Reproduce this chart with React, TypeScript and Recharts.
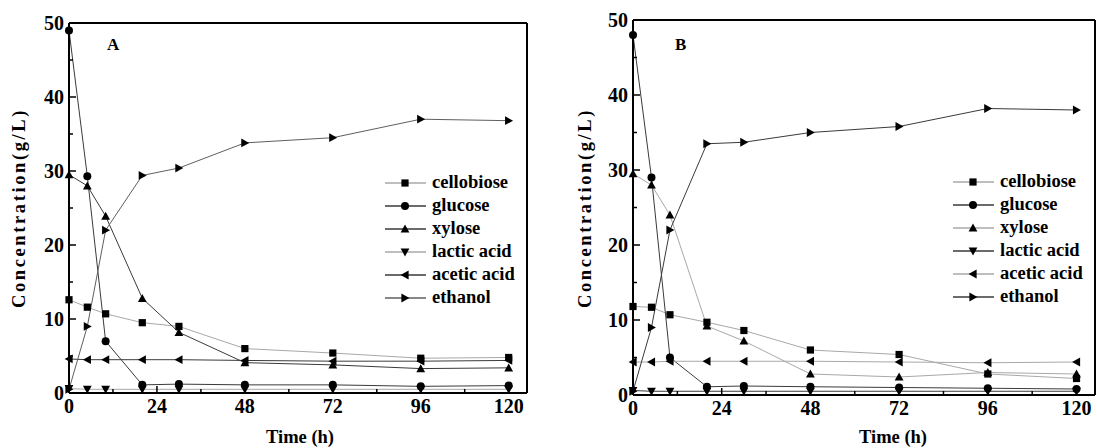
import React from 'react';
import { LineChart, Line, XAxis, YAxis, ReferenceLine, Legend } from 'recharts';

// sampling times (h)
const TIME = [0, 5, 10, 20, 30, 48, 72, 96, 120];
const X_TICKS = [0, 12, 24, 36, 48, 60, 72, 84, 96, 108, 120];
const Y_TICKS = [0, 5, 10, 15, 20, 25, 30, 35, 40, 45, 50];

// panel A
const A_CELLOBIOSE = [12.6, 11.6, 10.7, 9.5, 9.0, 6.0, 5.4, 4.7, 4.8];
const A_GLUCOSE = [49.0, 29.3, 7.0, 1.1, 1.2, 1.1, 1.1, 0.9, 1.0];
const A_XYLOSE = [29.5, 28.0, 23.9, 12.8, 8.2, 4.1, 3.8, 3.3, 3.4];
const A_LACTIC = [0.6, 0.5, 0.5, 0.5, 0.5, 0.5, 0.5, 0.5, 0.5];
const A_ACETIC = [4.6, 4.5, 4.5, 4.5, 4.5, 4.4, 4.3, 4.3, 4.4];
const A_ETHANOL = [0.5, 9.0, 22.0, 29.4, 30.4, 33.8, 34.5, 37.0, 36.8];

// panel B
const B_CELLOBIOSE = [11.8, 11.7, 10.7, 9.7, 8.6, 6.0, 5.4, 2.8, 2.2];
const B_GLUCOSE = [48.0, 29.0, 5.0, 1.1, 1.2, 1.1, 1.0, 0.9, 0.8];
const B_XYLOSE = [29.5, 28.0, 24.0, 9.2, 7.2, 2.8, 2.4, 3.0, 2.8];
const B_LACTIC = [0.6, 0.5, 0.5, 0.5, 0.5, 0.5, 0.5, 0.5, 0.5];
const B_ACETIC = [4.4, 4.4, 4.5, 4.5, 4.5, 4.5, 4.4, 4.3, 4.4];
const B_ETHANOL = [0.5, 9.0, 22.0, 33.5, 33.7, 35.0, 35.8, 38.2, 38.0];

const FONT = '"Liberation Serif", "Times New Roman", serif';

type Shape = 'square' | 'circle' | 'up' | 'down' | 'left' | 'right';

interface SeriesDef {
  key: string;
  name: string;
  shape: Shape;
}

const SERIES: SeriesDef[] = [
  { key: 'cellobiose', name: 'cellobiose', shape: 'square' },
  { key: 'glucose', name: 'glucose', shape: 'circle' },
  { key: 'xylose', name: 'xylose', shape: 'up' },
  { key: 'lactic', name: 'lactic acid', shape: 'down' },
  { key: 'acetic', name: 'acetic acid', shape: 'left' },
  { key: 'ethanol', name: 'ethanol', shape: 'right' },
];

const LIGHT = '#a8a8a8';
const DARK = '#3a3a3a';
const MID = '#5f5f5f';

const A_COLORS = [LIGHT, DARK, DARK, LIGHT, DARK, MID];
const B_COLORS = [LIGHT, DARK, LIGHT, DARK, LIGHT, DARK];

const buildRows = (cols: number[][]) =>
  TIME.map((t, i) => ({
    time: t,
    cellobiose: cols[0][i],
    glucose: cols[1][i],
    xylose: cols[2][i],
    lactic: cols[3][i],
    acetic: cols[4][i],
    ethanol: cols[5][i],
  }));

const A_DATA = buildRows([A_CELLOBIOSE, A_GLUCOSE, A_XYLOSE, A_LACTIC, A_ACETIC, A_ETHANOL]);
const B_DATA = buildRows([B_CELLOBIOSE, B_GLUCOSE, B_XYLOSE, B_LACTIC, B_ACETIC, B_ETHANOL]);

const Marker = ({ shape, cx, cy, s = 3.6 }: { shape: Shape; cx: number; cy: number; s?: number }) => {
  const t = s + 0.8;
  switch (shape) {
    case 'square':
      return <rect x={cx - s} y={cy - s} width={2 * s} height={2 * s} fill="#000" />;
    case 'circle':
      return <circle cx={cx} cy={cy} r={s + 0.4} fill="#000" />;
    case 'up':
      return <polygon points={`${cx},${cy - t} ${cx - t},${cy + s} ${cx + t},${cy + s}`} fill="#000" />;
    case 'down':
      return <polygon points={`${cx},${cy + t} ${cx - t},${cy - s} ${cx + t},${cy - s}`} fill="#000" />;
    case 'left':
      return <polygon points={`${cx - t},${cy} ${cx + s},${cy - t} ${cx + s},${cy + t}`} fill="#000" />;
    default:
      return <polygon points={`${cx + t},${cy} ${cx - s},${cy - t} ${cx - s},${cy + t}`} fill="#000" />;
  }
};

const XTick = ({ x, y, payload }: any) => {
  const v = payload.value;
  const major = v % 24 === 0;
  return (
    <g>
      <line x1={x} x2={x} y1={y} y2={y - (major ? 7 : 4)} stroke="#000" strokeWidth={1.5} />
      {major && (
        <text x={x} y={y + 20} textAnchor="middle" fontFamily={FONT} fontWeight="bold" fontSize={20} fill="#000">
          {v}
        </text>
      )}
    </g>
  );
};

const YTick = ({ x, y, payload }: any) => {
  const v = payload.value;
  const major = v % 10 === 0;
  return (
    <g>
      <line x1={x} x2={x + (major ? 7 : 4)} y1={y} y2={y} stroke="#000" strokeWidth={1.5} />
      {major && (
        <text x={x - 5} y={y} dy="0.35em" textAnchor="end" fontFamily={FONT} fontWeight="bold" fontSize={20} fill="#000">
          {v}
        </text>
      )}
    </g>
  );
};

const makeLegend = (colors: string[]) => () => (
  <div style={{ fontFamily: FONT, fontWeight: 'bold', fontSize: 18.5, color: '#000' }}>
    {SERIES.map((s, i) => (
      <div key={s.key} style={{ display: 'flex', alignItems: 'center', height: 23 }}>
        <svg width={47} height={16} style={{ display: 'block' }}>
          <line x1={0} x2={41} y1={8} y2={8} stroke={colors[i]} strokeWidth={1.5} />
          <Marker shape={s.shape} cx={20} cy={8} />
        </svg>
        <span style={{ lineHeight: '23px', whiteSpace: 'nowrap' }}>{s.name}</span>
      </div>
    ))}
  </div>
);

interface PanelProps {
  data: any[];
  colors: string[];
  width: number;
  yAxisWidth: number;
  marginTop: number;
  marginRight: number;
  xAxisHeight: number;
  legendLeft: number;
  legendTop: number;
}

const Panel = ({ data, colors, width, yAxisWidth, marginTop, marginRight, xAxisHeight, legendLeft, legendTop }: PanelProps) => (
  <LineChart width={width} height={448} data={data} margin={{ top: marginTop, right: marginRight, left: 0, bottom: 0 }}>
    <XAxis
      dataKey="time"
      type="number"
      domain={[0, 125]}
      ticks={X_TICKS}
      interval={0}
      height={xAxisHeight}
      tickSize={0}
      tickMargin={0}
      tickLine={false}
      tick={<XTick />}
      axisLine={{ stroke: '#000', strokeWidth: 2 }}
    />
    <YAxis
      type="number"
      domain={[0, 50]}
      ticks={Y_TICKS}
      interval={0}
      width={yAxisWidth}
      tickSize={0}
      tickMargin={0}
      tickLine={false}
      tick={<YTick />}
      axisLine={{ stroke: '#000', strokeWidth: 2 }}
    />
    <ReferenceLine y={50} stroke="#000" strokeWidth={2} />
    <ReferenceLine x={125} stroke="#000" strokeWidth={2} />
    {SERIES.map((s, i) => (
      <Line
        key={s.key}
        dataKey={s.key}
        name={s.name}
        type="linear"
        stroke={colors[i]}
        strokeWidth={1}
        isAnimationActive={false}
        dot={(p: any) => <Marker key={`${s.key}-${p.index}`} shape={s.shape} cx={p.cx} cy={p.cy} />}
        activeDot={false}
      />
    ))}
    <Legend
      layout="vertical"
      align="center"
      verticalAlign="middle"
      content={makeLegend(colors)}
      wrapperStyle={{ left: legendLeft, top: legendTop, width: 150, height: 140 }}
    />
  </LineChart>
);

const textStyle: React.CSSProperties = {
  position: 'absolute',
  fontFamily: FONT,
  fontWeight: 'bold',
  color: '#000',
  whiteSpace: 'nowrap',
};

const YTitle = ({ cx, cy }: { cx: number; cy: number }) => (
  <div
    style={{
      ...textStyle,
      fontSize: 18.5,
      letterSpacing: 2.6,
      left: cx,
      top: cy,
      transform: 'translate(-50%, -50%) rotate(-90deg)',
    }}
  >
    Concentration(g/L)
  </div>
);

const XTitle = ({ cx, cy }: { cx: number; cy: number }) => (
  <div style={{ ...textStyle, fontSize: 18.5, left: cx, top: cy, transform: 'translate(-50%, -50%)' }}>Time (h)</div>
);

export default function App() {
  return (
    <div style={{ position: 'absolute', left: 0, top: 0, width: 1097, height: 448, background: '#fff', overflow: 'hidden' }}>
      <div style={{ position: 'absolute', left: 0, top: 0 }}>
        <Panel
          data={A_DATA}
          colors={A_COLORS}
          width={548}
          yAxisWidth={69}
          marginTop={23}
          marginRight={21}
          xAxisHeight={55}
          legendLeft={385}
          legendTop={171}
        />
      </div>
      <div style={{ position: 'absolute', left: 548, top: 0 }}>
        <Panel
          data={B_DATA}
          colors={B_COLORS}
          width={549}
          yAxisWidth={85}
          marginTop={20}
          marginRight={2}
          xAxisHeight={53}
          legendLeft={405}
          legendTop={170}
        />
      </div>
      <div style={{ ...textStyle, fontSize: 17, left: 107, top: 35 }}>A</div>
      <div style={{ ...textStyle, fontSize: 17, left: 675, top: 35 }}>B</div>
      <YTitle cx={19} cy={208} />
      <YTitle cx={585} cy={208} />
      <XTitle cx={300} cy={437} />
      <XTitle cx={893} cy={437} />
    </div>
  );
}
